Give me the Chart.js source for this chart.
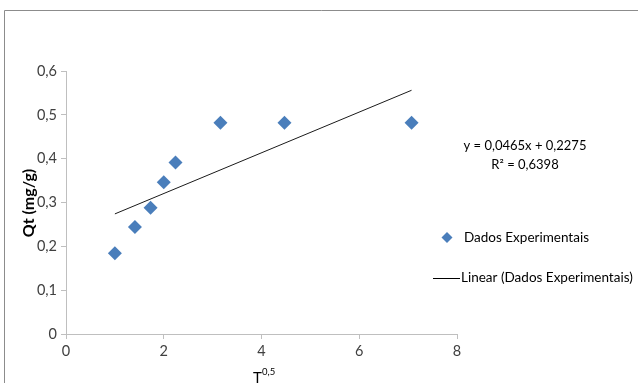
<!DOCTYPE html>
<html>
<head>
<meta charset="utf-8">
<script src="https://cdn.jsdelivr.net/npm/chart.js@4.4.0/dist/chart.umd.min.js"></script>
<style>
  body { margin: 0; background: #fff; }
  #wrap { position: relative; width: 638px; height: 383px; }
</style>
</head>
<body>
<div id="wrap"><canvas id="myChart" width="638" height="383"></canvas></div>
<script>
// values (x = T^0.5, y = Qt mg/g)
const xValues = [1, 1.41, 1.73, 2, 2.24, 3.16, 4.47, 7.07];
const qtValues = [0.184, 0.244, 0.288, 0.346, 0.391, 0.482, 0.482, 0.482];
// trendline ends as drawn
const trendX = [1, 7.07];
const trendY = [0.274, 0.556];
const xTicks = [0, 2, 4, 6, 8];
const yTicks = [0, 0.1, 0.2, 0.3, 0.4, 0.5, 0.6];
const equation = "y = 0,0465x + 0,2275";
const rSquared = "R² = 0,6398";
const seriesName = "Dados Experimentais";
const trendName = "Linear (Dados Experimentais)";

const FONT = "Lato, 'Open Sans', sans-serif";
const BLUE = "#4a7ebb";
const AXIS = "#bfbfbf";
const TEXT = "#404040";

const ctx = document.getElementById("myChart");

// frame, titles, equation and legend
const extras = {
  id: "extras",
  afterDraw(chart) {
    const c = chart.ctx;
    c.save();
    // outer frame (left/top only visible)
    c.strokeStyle = "#8c8c8c";
    c.lineWidth = 1;
    c.beginPath();
    c.moveTo(4.5, 400);
    c.lineTo(4.5, 10.5);
    c.lineTo(640, 10.5);
    c.stroke();

    // y title
    c.fillStyle = "#000";
    c.font = "bold 16px " + FONT;
    c.textAlign = "center";
    c.textBaseline = "middle";
    c.translate(29, 203);
    c.rotate(-Math.PI / 2);
    c.fillText("Qt (mg/g)", 0, 0);
    c.setTransform(1, 0, 0, 1, 0, 0);

    // x title T^0,5
    c.fillStyle = "#000";
    c.textAlign = "left";
    c.font = "15px " + FONT;
    c.fillText("T", 253, 378);
    c.font = "9.5px " + FONT;
    c.fillText("0,5", 262, 372);

    // equation
    c.font = "13px " + FONT;
    c.textAlign = "center";
    c.fillText(equation, 525, 146);
    c.fillText(rSquared, 525, 165);

    // legend
    c.font = "13.5px " + FONT;
    c.fillStyle = BLUE;
    c.beginPath();
    c.moveTo(447, 232);
    c.lineTo(452.5, 237.5);
    c.lineTo(447, 243);
    c.lineTo(441.5, 237.5);
    c.closePath();
    c.fill();
    c.fillStyle = "#000";
    c.textAlign = "left";
    c.fillText(seriesName, 464, 238);
    c.strokeStyle = "#000";
    c.beginPath();
    c.moveTo(433, 278.5);
    c.lineTo(460, 278.5);
    c.stroke();
    c.fillText(trendName, 461, 278);
    c.restore();
  }
};

const myChart = new Chart(ctx, {
  type: "scatter",
  data: {
    datasets: [
      {
        label: seriesName,
        data: xValues.map((x, i) => ({ x: x, y: qtValues[i] })),
        pointStyle: "rectRot",
        pointRadius: 7,
        pointBackgroundColor: BLUE,
        pointBorderColor: BLUE,
        pointBorderWidth: 0,
        order: 1
      },
      {
        label: trendName,
        type: "line",
        data: trendX.map((x, i) => ({ x: x, y: trendY[i] })),
        borderColor: "#1a1a1a",
        borderWidth: 1,
        pointRadius: 0,
        fill: false,
        order: 2
      }
    ]
  },
  options: {
    responsive: false,
    animation: false,
    layout: { padding: { top: 71, right: 181, left: 0, bottom: 0 } },
    plugins: { legend: { display: false }, tooltip: { enabled: false } },
    scales: {
      x: {
        type: "linear",
        min: 0,
        max: 8,
        afterBuildTicks: (s) => { s.ticks = xTicks.map((v) => ({ value: v })); },
        afterFit: (s) => { s.height = 49; },
        border: { color: AXIS, width: 1 },
        grid: { drawOnChartArea: false, tickLength: 5, color: AXIS },
        ticks: { color: TEXT, font: { family: FONT, size: 14.5 }, padding: 4 }
      },
      y: {
        min: 0,
        max: 0.6,
        afterBuildTicks: (s) => { s.ticks = yTicks.map((v) => ({ value: v })); },
        afterFit: (s) => { s.width = 66; },
        border: { color: AXIS, width: 1 },
        grid: { drawOnChartArea: false, tickLength: 5, color: AXIS },
        ticks: {
          color: TEXT,
          font: { family: FONT, size: 14.5 },
          padding: 4,
          callback: (v) => String(Math.round(v * 10) / 10).replace(".", ",")
        }
      }
    }
  },
  plugins: [extras]
});
</script>
</body>
</html>
